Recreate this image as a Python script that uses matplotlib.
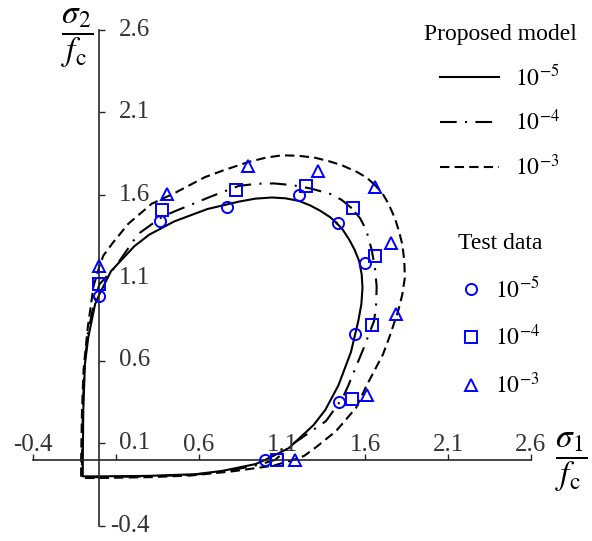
import matplotlib
matplotlib.use("Agg")
import matplotlib.pyplot as plt
from matplotlib.lines import Line2D

plt.rcParams['font.family'] = ['Liberation Serif', 'DejaVu Serif']
plt.rcParams['mathtext.fontset'] = 'stix'

# Strain-rate labels shared by the model curves and the test data
rate_labels = [r'$10^{-5}$', r'$10^{-4}$', r'$10^{-3}$']

# Failure envelopes of the proposed model (sigma1/fc, sigma2/fc).
# Each list is one half of the envelope, from the equal-biaxial point on
# sigma1 = sigma2 round past the sigma2 axis to the tension corner; the other
# half is its mirror image about sigma1 = sigma2.
env5_x = [1.43, 1.39, 1.33, 1.27, 1.20, 1.12, 1.04, 0.94, 0.84, 0.65, 0.45,
          0.30, 0.21, 0.07, 0.0, -0.026, -0.067, -0.087, -0.097, -0.10, -0.10]
env5_y = [1.43, 1.466, 1.505, 1.537, 1.565, 1.58, 1.585, 1.578, 1.56, 1.515,
          1.44, 1.36, 1.29, 1.14, 1.0, 0.94, 0.74, 0.58, 0.30, 0.0, -0.10]

env4_x = [1.52, 1.46, 1.39, 1.27, 1.16, 1.05, 0.95, 0.84, 0.67, 0.45, 0.375,
          0.234, 0.094, 0.0, -0.03, -0.07, -0.09, -0.10, -0.105, -0.105]
env4_y = [1.52, 1.57, 1.607, 1.64, 1.66, 1.67, 1.668, 1.655, 1.59, 1.50,
          1.466, 1.365, 1.163, 1.06, 0.96, 0.76, 0.57, 0.30, 0.0, -0.105]

env3_x = [1.66, 1.61, 1.55, 1.46, 1.38, 1.30, 1.20, 1.10, 1.00, 0.90, 0.75,
          0.636, 0.45, 0.315, 0.174, 0.08, 0.024, 0.0, -0.035, -0.07, -0.095,
          -0.105, -0.11, -0.11]
env3_y = [1.66, 1.705, 1.74, 1.78, 1.805, 1.825, 1.837, 1.84, 1.825, 1.80,
          1.75, 1.708, 1.61, 1.547, 1.426, 1.31, 1.234, 1.17, 1.05, 0.80, 0.55,
          0.30, 0.0, -0.11]

# Biaxial test results
test5_x = [0.0, 0.365, 0.77, 1.20, 1.435, 1.60, 1.54, 1.445, 1.0]
test5_y = [0.99, 1.44, 1.53, 1.60, 1.43, 1.19, 0.76, 0.35, 0.0]
test4_x = [0.0, 0.38, 0.823, 1.245, 1.53, 1.66, 1.644, 1.52, 1.07]
test4_y = [1.063, 1.512, 1.633, 1.652, 1.523, 1.234, 0.815, 0.367, 0.0]
test3_x = [0.0, 0.405, 0.893, 1.319, 1.66, 1.757, 1.787, 1.614, 1.178]
test3_y = [1.174, 1.607, 1.778, 1.748, 1.647, 1.309, 0.881, 0.393, 0.0]

ticks = [-0.4, 0.1, 0.6, 1.1, 1.6, 2.1, 2.6]

line_styles = ['-', (0, (8, 4, 1, 4)), (0, (4.5, 2.5))]
markers = ['o', 's', '^']
blue = '#0000ff'
axis_color = '#262626'
label_color = '#333333'


def full_envelope(hx, hy):
    # second half: mirror about sigma1 = sigma2, walked back to the start
    return hx + hy[::-1], hy + hx[::-1]


fig = plt.figure(figsize=(5.92, 5.41), dpi=100)
ax = fig.add_axes([33 / 592, 15 / 541, 498 / 592, 496.5 / 541])
ax.set_xlim(-0.4, 2.6)
ax.set_ylim(-0.4, 2.6)

for side in ('top', 'right'):
    ax.spines[side].set_visible(False)
for side in ('left', 'bottom'):
    ax.spines[side].set_position(('data', 0))
    ax.spines[side].set_color(axis_color)
    ax.spines[side].set_linewidth(1.2)

ax.set_xticks(ticks)
ax.set_yticks(ticks)
ax.tick_params(direction='in', length=4, width=1.0, color=axis_color,
               labelbottom=False, labelleft=False)

# Tick labels: vertical-axis labels sit right of the axis, horizontal-axis
# labels above it; the "0.1" label is shared by both axes.
for t in ticks:
    ax.text(0.305, t, f'{t:.1f}', ha='right', va='center', fontsize=18,
            color=label_color)
for t in ticks:
    if abs(t - 0.1) < 1e-9:
        continue
    ax.text(t, 0.088, f'{t:.1f}', ha='center', va='center', fontsize=18,
            color=label_color)

envelopes = [(env5_x, env5_y), (env4_x, env4_y), (env3_x, env3_y)]
for (hx, hy), ls in zip(envelopes, line_styles):
    fx, fy = full_envelope(hx, hy)
    ax.plot(fx, fy, color='black', lw=1.5, linestyle=ls, zorder=2,
            clip_on=False)

tests = [(test5_x, test5_y), (test4_x, test4_y), (test3_x, test3_y)]
for (tx, ty), mk in zip(tests, markers):
    ax.plot(tx, ty, linestyle='none', marker=mk, ms=8, mfc='none',
            mec=blue, mew=1.4, zorder=3, clip_on=False)

# Axis titles
fig.text(77 / 592, 1 - 38 / 541, r'$\dfrac{\sigma_2}{f_\mathrm{c}}$',
         ha='center', va='center', fontsize=24)
fig.text(571 / 592, 1 - 462 / 541, r'$\dfrac{\sigma_1}{f_\mathrm{c}}$',
         ha='center', va='center', fontsize=24)

# Legends
model_handles = [Line2D([], [], color='black', lw=1.5, linestyle=ls)
                 for ls in line_styles]
leg1 = ax.legend(model_handles, rate_labels, title='Proposed model',
                 loc='upper center', bbox_to_anchor=(500 / 592, 1 - 24 / 541),
                 bbox_transform=fig.transFigure, frameon=False, fontsize=17,
                 title_fontsize=17, handlelength=2.5, handletextpad=0.65,
                 labelspacing=0.82, borderpad=0, borderaxespad=0)
ax.add_artist(leg1)

test_handles = [Line2D([], [], linestyle='none', marker=mk, ms=8, mfc='none',
                       mec=blue, mew=1.4) for mk in markers]
ax.legend(test_handles, rate_labels, title='Test data',
          loc='upper center', bbox_to_anchor=(500 / 592, 1 - 233 / 541),
          bbox_transform=fig.transFigure, frameon=False, fontsize=17,
          title_fontsize=17, handlelength=1.0, handletextpad=0.5,
          labelspacing=0.95, borderpad=0, borderaxespad=0)

fig.savefig('out.png', dpi=100)
